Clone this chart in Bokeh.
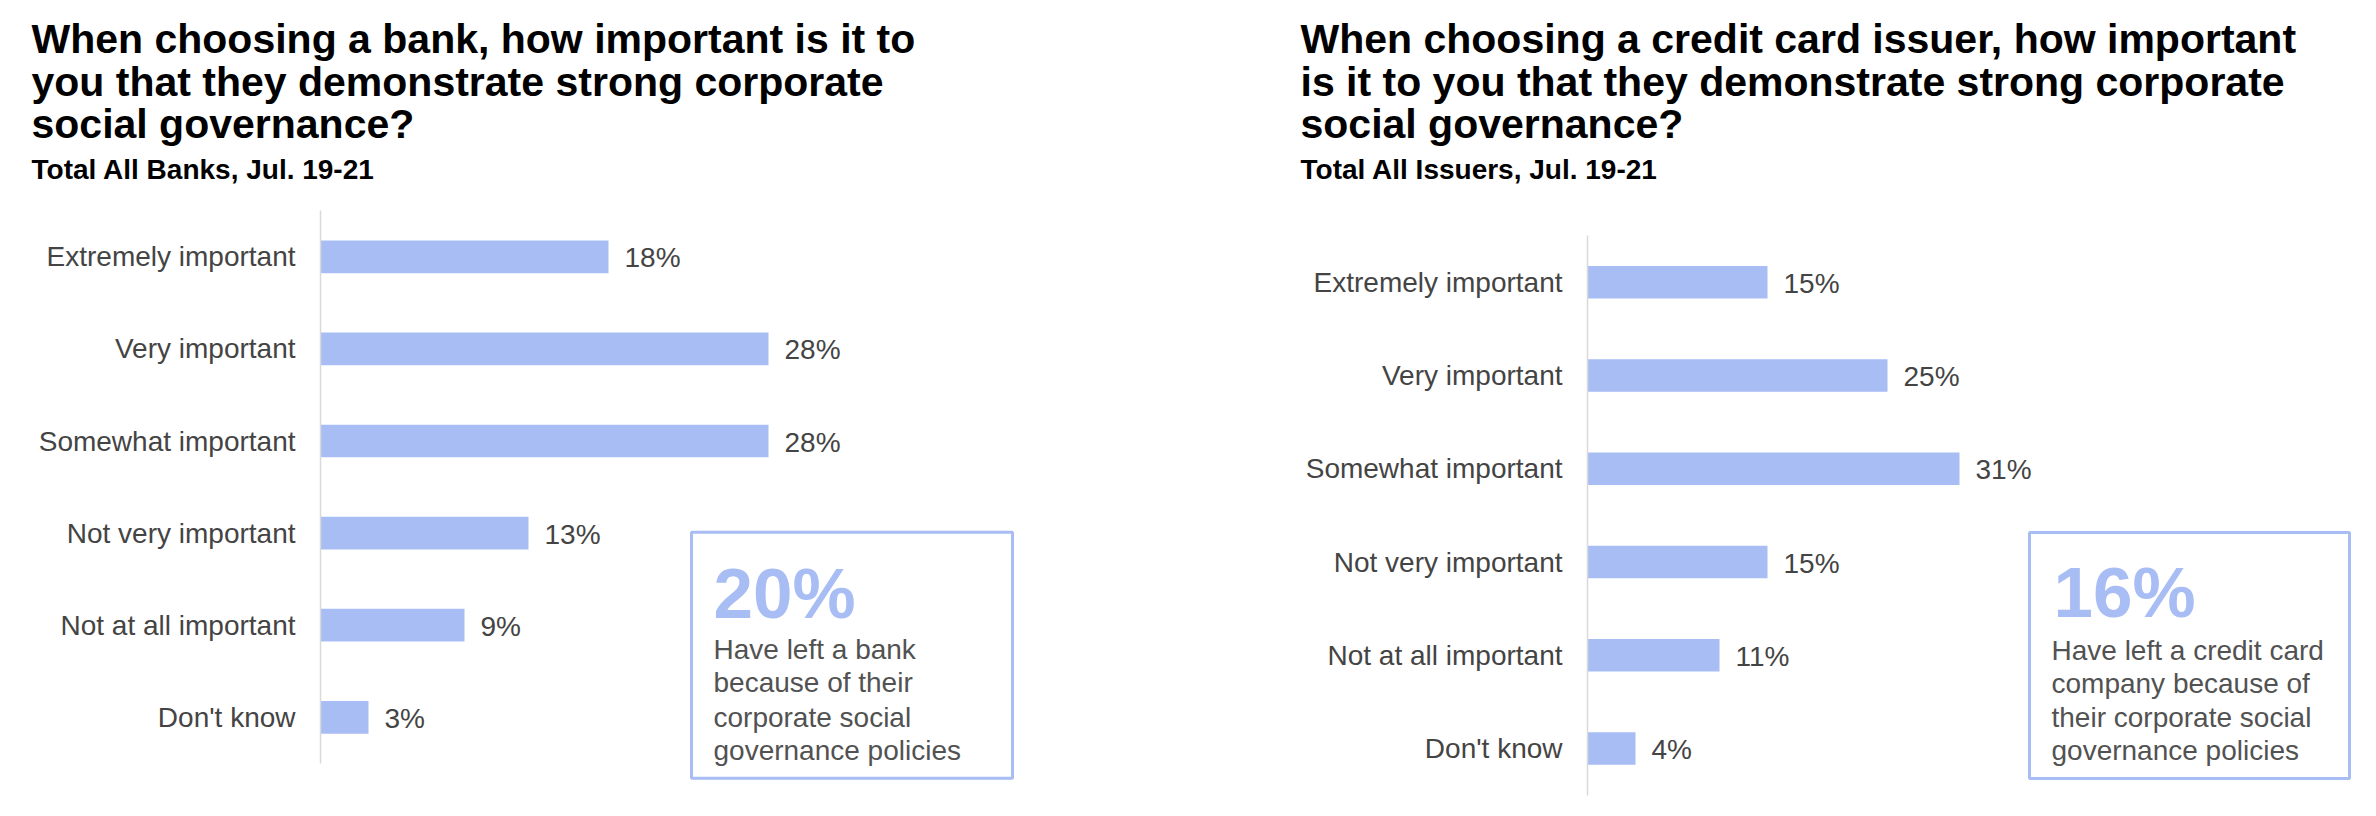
from bokeh.plotting import figure
from bokeh.models import ColumnDataSource, Label, BoxAnnotation, FixedTicker, Range1d
from bokeh.layouts import row, column
from bokeh.core.properties import value
from bokeh.embed import file_html
from bokeh.resources import INLINE

# ---------------- data ----------------
categories = ["Extremely important", "Very important", "Somewhat important",
              "Not very important", "Not at all important", "Don't know"]
bank_values = [18, 28, 28, 13, 9, 3]
issuer_values = [15, 25, 31, 15, 11, 4]

bank_title = ["When choosing a bank, how important is it to",
              "you that they demonstrate strong corporate",
              "social governance?"]
bank_subtitle = "Total All Banks, Jul. 19-21"
bank_callout_value = "20%"
bank_callout_text = ["Have left a bank", "because of their",
                     "corporate social", "governance policies"]

issuer_title = ["When choosing a credit card issuer, how important",
                "is it to you that they demonstrate strong corporate",
                "social governance?"]
issuer_subtitle = "Total All Issuers, Jul. 19-21"
issuer_callout_value = "16%"
issuer_callout_text = ["Have left a credit card", "company because of",
                       "their corporate social", "governance policies"]

# ---------------- style ----------------
BAR = "#a8bdf4"
AXIS = "#d9d9d9"
TXT = "#444444"
BOXTXT = "#525252"
FONT = "Liberation Sans"
T = 190          # height of the title strip
H = 610          # height of the chart strip
W1 = 1180
W2 = 1180


def label(x, y, text, size, color, bold=False):
    return Label(x=x, y=y, x_units="screen", y_units="screen", text=text,
                 text_font=FONT, text_font_size=size,
                 text_font_style="bold" if bold else "normal",
                 text_color=color, text_baseline="alphabetic",
                 text_line_height=1.0)


# ---------------- title strip ----------------
pt = figure(width=W1 + W2, height=T, x_range=Range1d(0, 1), y_range=Range1d(0, 1),
            output_backend="svg", toolbar_location=None,
            x_axis_location=None, y_axis_location=None,
            min_border=0, outline_line_color=None,
            background_fill_color="white", border_fill_color="white")
pt.grid.visible = False
for tx, lines, sub in [(31, bank_title, bank_subtitle),
                       (1300, issuer_title, issuer_subtitle)]:
    for line, base in zip(lines, [38, 81.5, 123]):
        pt.add_layout(label(tx, T - base, line, "41px", "#000000", bold=True))
    pt.add_layout(label(tx, T - 168.6, sub, "28px", "#000000", bold=True))


# ---------------- chart panels ----------------
def panel(width, frame_left, px_per_pct, pitch, center0, bar_frac, values,
          callout_value, callout_lines, box, big_pos, text_x, text_baselines):
    n = len(categories)
    ys = [n - 1 - i for i in range(n)]
    y_start = (n - 1) - (H - center0) / pitch
    y_end = y_start + H / pitch
    p = figure(width=width, height=H,
               x_range=Range1d(0, (width - frame_left) / px_per_pct),
               y_range=Range1d(y_start, y_end),
               output_backend="svg", toolbar_location=None,
               x_axis_location=None, y_axis_location="left",
               min_border_left=frame_left, min_border_right=0,
               min_border_top=0, min_border_bottom=0,
               outline_line_color=None,
               background_fill_color="white", border_fill_color="white")
    p.grid.visible = False

    src = ColumnDataSource(dict(y=ys, v=values, lab=[f"{v}%" for v in values]))
    p.hbar(y="y", left=0, right="v", height=bar_frac, source=src,
           fill_color=BAR, line_color=None)
    p.text(x="v", y="y", text="lab", source=src, x_offset=16, y_offset=1,
           text_baseline="middle", text_align="left",
           text_font=value(FONT), text_font_size="28px", text_color=TXT)

    ax = p.yaxis[0]
    ax.ticker = FixedTicker(ticks=ys)
    ax.major_label_overrides = {y: c for y, c in zip(ys, categories)}
    ax.axis_line_color = AXIS
    ax.axis_line_width = 1.5
    ax.major_tick_in = 0
    ax.major_tick_out = 0
    ax.minor_tick_in = 0
    ax.minor_tick_out = 0
    ax.major_label_standoff = 25
    ax.major_label_text_font = FONT
    ax.major_label_text_font_size = "28px"
    ax.major_label_text_color = TXT
    ax.bounds = (-0.5, n - 0.5)

    # callout box (screen units relative to the frame's bottom-left)
    l, r, t, b = box
    p.add_layout(BoxAnnotation(left=l - frame_left, right=r - frame_left,
                               top=H - t, bottom=H - b,
                               left_units="screen", right_units="screen",
                               top_units="screen", bottom_units="screen",
                               fill_alpha=0, line_color=BAR, line_alpha=1.0,
                               line_width=3))
    bx, by = big_pos
    p.add_layout(label(bx - frame_left, H - by, callout_value, "71px", BAR, bold=True))
    for line, base in zip(callout_lines, text_baselines):
        p.add_layout(label(text_x - frame_left, H - base, line, "28px", BOXTXT))
    return p


p1 = panel(W1, 320, 16.0, 92.1, 66.3, 0.355, bank_values,
           bank_callout_value, bank_callout_text,
           box=(691, 1012, 341.7, 587.7), big_pos=(713, 403),
           text_x=713, text_baselines=[458.6, 492.4, 526.6, 560.0])

p2 = panel(W2, 407, 12.0, 93.24, 91.8, 0.35, issuer_values,
           issuer_callout_value, issuer_callout_text,
           box=(849, 1169, 342, 588), big_pos=(873, 402),
           text_x=871, text_baselines=[460.0, 493.3, 526.6, 560.3])

layout = column(pt, row(p1, p2))
open("out.html", "w").write(file_html(layout, INLINE))
